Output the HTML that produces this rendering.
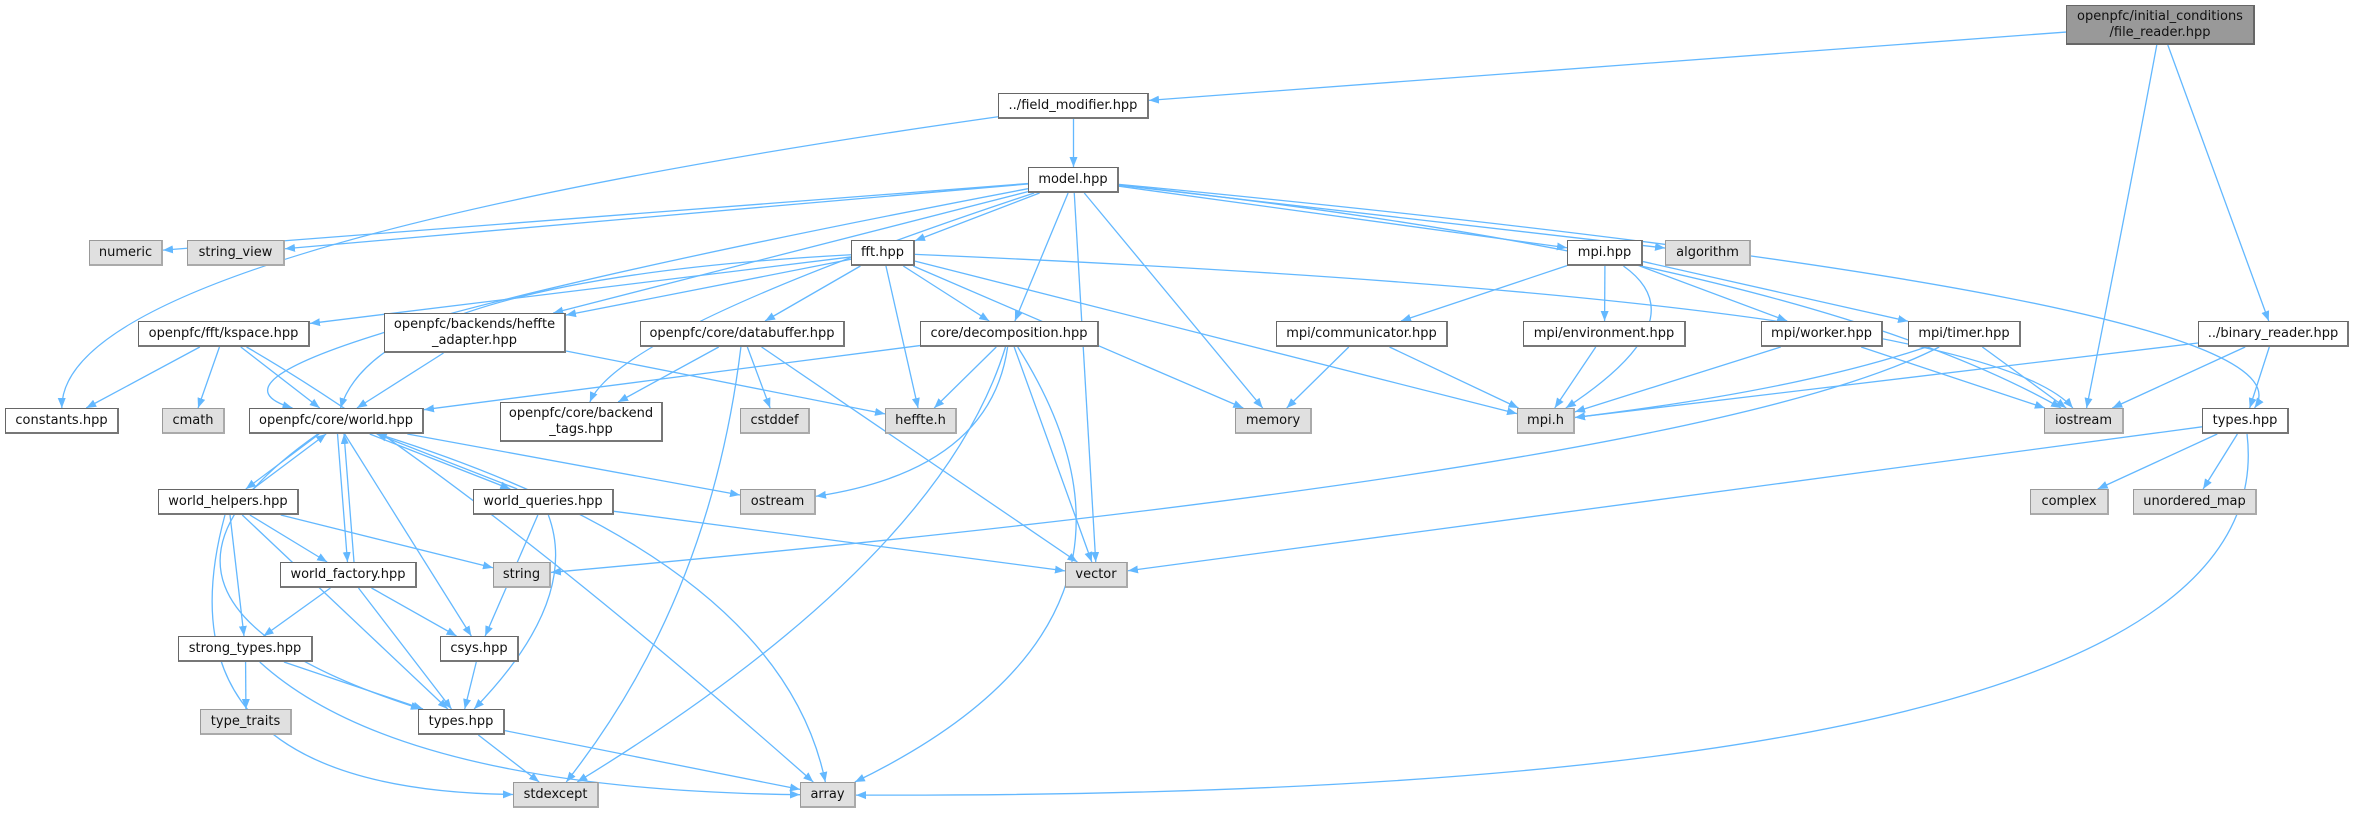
<!DOCTYPE html>
<html><head><meta charset="utf-8"><style>
body{margin:0;background:#fff;width:2376px;height:813px;position:relative;overflow:hidden;font-family:"DejaVu Sans","Liberation Sans",sans-serif}
.n{position:absolute;box-sizing:border-box;border:1px solid #666;border-bottom:2px solid #777;border-right:2px solid #777;background:#fff;font-size:13px;color:#111;display:flex;align-items:center;justify-content:center;text-align:center;line-height:16px;white-space:nowrap}
.g{background:#e0e0e0;border-color:#999;border-bottom-color:#aaa;border-right-color:#aaa}
.r{background:#999;border-color:#666}
svg{position:absolute;left:0;top:0}
</style></head><body>
<svg id="s" width="2376" height="813"><defs><marker id="a" viewBox="0 0 10 10" refX="10" refY="5" markerWidth="10" markerHeight="10" markerUnits="userSpaceOnUse" orient="auto"><path d="M0,1 L10,5 L0,9 z" fill="#63b8ff"/></marker></defs></svg>
<div id="nodes"></div>
<script>
var N={
fr:[2066,5,189,40,"openpfc/initial_conditions<br>/file_reader.hpp","r"],
fm:[998,93,151,26,"../field_modifier.hpp"],
model:[1028,167,91,26,"model.hpp"],
numeric:[89,240,74,26,"numeric","g"],
sv:[187,240,98,26,"string_view","g"],
fft:[851,240,64,26,"fft.hpp"],
mpi:[1567,240,76,26,"mpi.hpp"],
alg:[1665,240,86,26,"algorithm","g"],
ksp:[138,321,172,26,"openpfc/fft/kspace.hpp"],
ha:[384,313,182,40,"openpfc/backends/heffte<br>_adapter.hpp"],
db:[640,321,205,26,"openpfc/core/databuffer.hpp"],
dec:[920,321,179,26,"core/decomposition.hpp"],
comm:[1276,321,172,26,"mpi/communicator.hpp"],
env:[1523,321,163,26,"mpi/environment.hpp"],
wrk:[1761,321,122,26,"mpi/worker.hpp"],
tmr:[1908,321,113,26,"mpi/timer.hpp"],
br:[2198,321,151,26,"../binary_reader.hpp"],
con:[5,408,114,26,"constants.hpp"],
cmath:[162,408,63,26,"cmath","g"],
world:[249,408,175,26,"openpfc/core/world.hpp"],
bt:[500,402,163,40,"openpfc/core/backend<br>_tags.hpp"],
cst:[740,408,70,26,"cstddef","g"],
hh:[885,408,72,26,"heffte.h","g"],
mem:[1235,408,77,26,"memory","g"],
mpih:[1517,408,58,26,"mpi.h","g"],
ios:[2044,408,80,26,"iostream","g"],
tr:[2202,408,87,26,"types.hpp"],
wh:[158,489,141,26,"world_helpers.hpp"],
wq:[473,489,141,26,"world_queries.hpp"],
ost:[740,489,76,26,"ostream","g"],
cpx:[2030,489,79,26,"complex","g"],
um:[2133,489,124,26,"unordered_map","g"],
wf:[280,562,137,26,"world_factory.hpp"],
str:[493,562,58,26,"string","g"],
vec:[1065,562,63,26,"vector","g"],
st:[178,636,135,26,"strong_types.hpp"],
csys:[440,636,79,26,"csys.hpp"],
tt:[200,709,92,26,"type_traits","g"],
ty:[418,709,87,26,"types.hpp"],
se:[513,782,86,26,"stdexcept","g"],
arr:[800,782,56,26,"array","g"]};
var h="";for(var k in N){var n=N[k];h+='<div class="n '+(n[5]||"")+'" style="left:'+n[0]+'px;top:'+n[1]+'px;width:'+n[2]+'px;height:'+n[3]+'px">'+n[4]+'</div>';}
document.getElementById("nodes").innerHTML=h;
var E=[["fr","fm"],["fr","ios",[2128,200]],["fr","br"],
["fm","model"],["fm","con",[60,250]],
["model","numeric"],["model","sv"],["model","world",[130,360]],["model","fft"],["model","ha"],["model","bt",[620,330]],["model","dec"],["model","vec"],["model","mem"],["model","mpi"],["model","alg"],["model","ios",[1800,260]],["model","tr",[2330,300]],
["fft","ksp"],["fft","ha"],["fft","world",[380,280]],["fft","db"],["fft","dec"],["fft","hh"],["fft","mem"],["fft","mpih"],["fft","ios",[1980,300]],
["mpi","comm"],["mpi","env"],["mpi","wrk"],["mpi","tmr"],["mpi","mpih",[1700,320]],
["ksp","con"],["ksp","cmath"],["ksp","world"],["ksp","arr",[460,470]],
["ha","world"],["ha","hh"],
["db","bt"],["db","cst"],["db","vec"],["db","se",[710,600]],
["dec","world"],["dec","hh"],["dec","ost",[990,470]],["dec","vec"],["dec","arr",[1190,620]],["dec","se",[940,560]],
["comm","mem"],["comm","mpih"],["env","mpih"],["wrk","mpih"],["wrk","ios"],["tmr","mpih",[1800,390]],["tmr","ios"],["tmr","str",[1700,470]],
["br","mpih"],["br","ios"],["br","tr"],
["tr","cpx"],["tr","um"],["tr","vec"],["tr","arr",[2290,800]],
["world","wh"],["world","wf"],["world","wq"],["world","csys"],["world","ty",[80,600]],["world","ost"],["world","arr",[780,560]],
["wh","world"],["wh","wf"],["wh","str"],["wh","st"],["wh","ty"],["wh","se",[150,790]],
["wq","world"],["wq","vec"],["wq","csys"],["wq","ty",[580,600]],
["wf","world"],["wf","st"],["wf","csys"],["wf","ty"],
["st","tt"],["st","ty"],["st","arr",[400,790]],["csys","ty"],["ty","se"],["ty","arr"]];
function c(n){return[n[0]+n[2]/2,n[1]+n[3]/2];}
function clip(n,p){var C=c(n),dx=p[0]-C[0],dy=p[1]-C[1],hw=n[2]/2,hh=n[3]/2;var t=Math.min(dx?hw/Math.abs(dx):1e9,dy?hh/Math.abs(dy):1e9);return[C[0]+dx*t,C[1]+dy*t];}
var s="",seen={};
E.forEach(function(e){var a=N[e[0]],b=N[e[1]],cp=e[2];var key=e[1]+"-"+e[0],off=seen[key]?6:0;seen[e[0]+"-"+e[1]]=1;
var ca=c(a),cb=c(b);ca[0]+=off;cb[0]+=off;
var p1=clip(a,cp||cb),p2=clip(b,cp||ca);p1[0]+=off;p2[0]+=off;
var d=cp?"M"+p1+" Q"+cp+" "+p2:"M"+p1+" L"+p2;
s+='<path d="'+d+'" fill="none" stroke="#63b8ff" stroke-width="1.3" marker-end="url(#a)"/>';});
document.getElementById("s").insertAdjacentHTML("beforeend",s);
</script>
</body></html>
